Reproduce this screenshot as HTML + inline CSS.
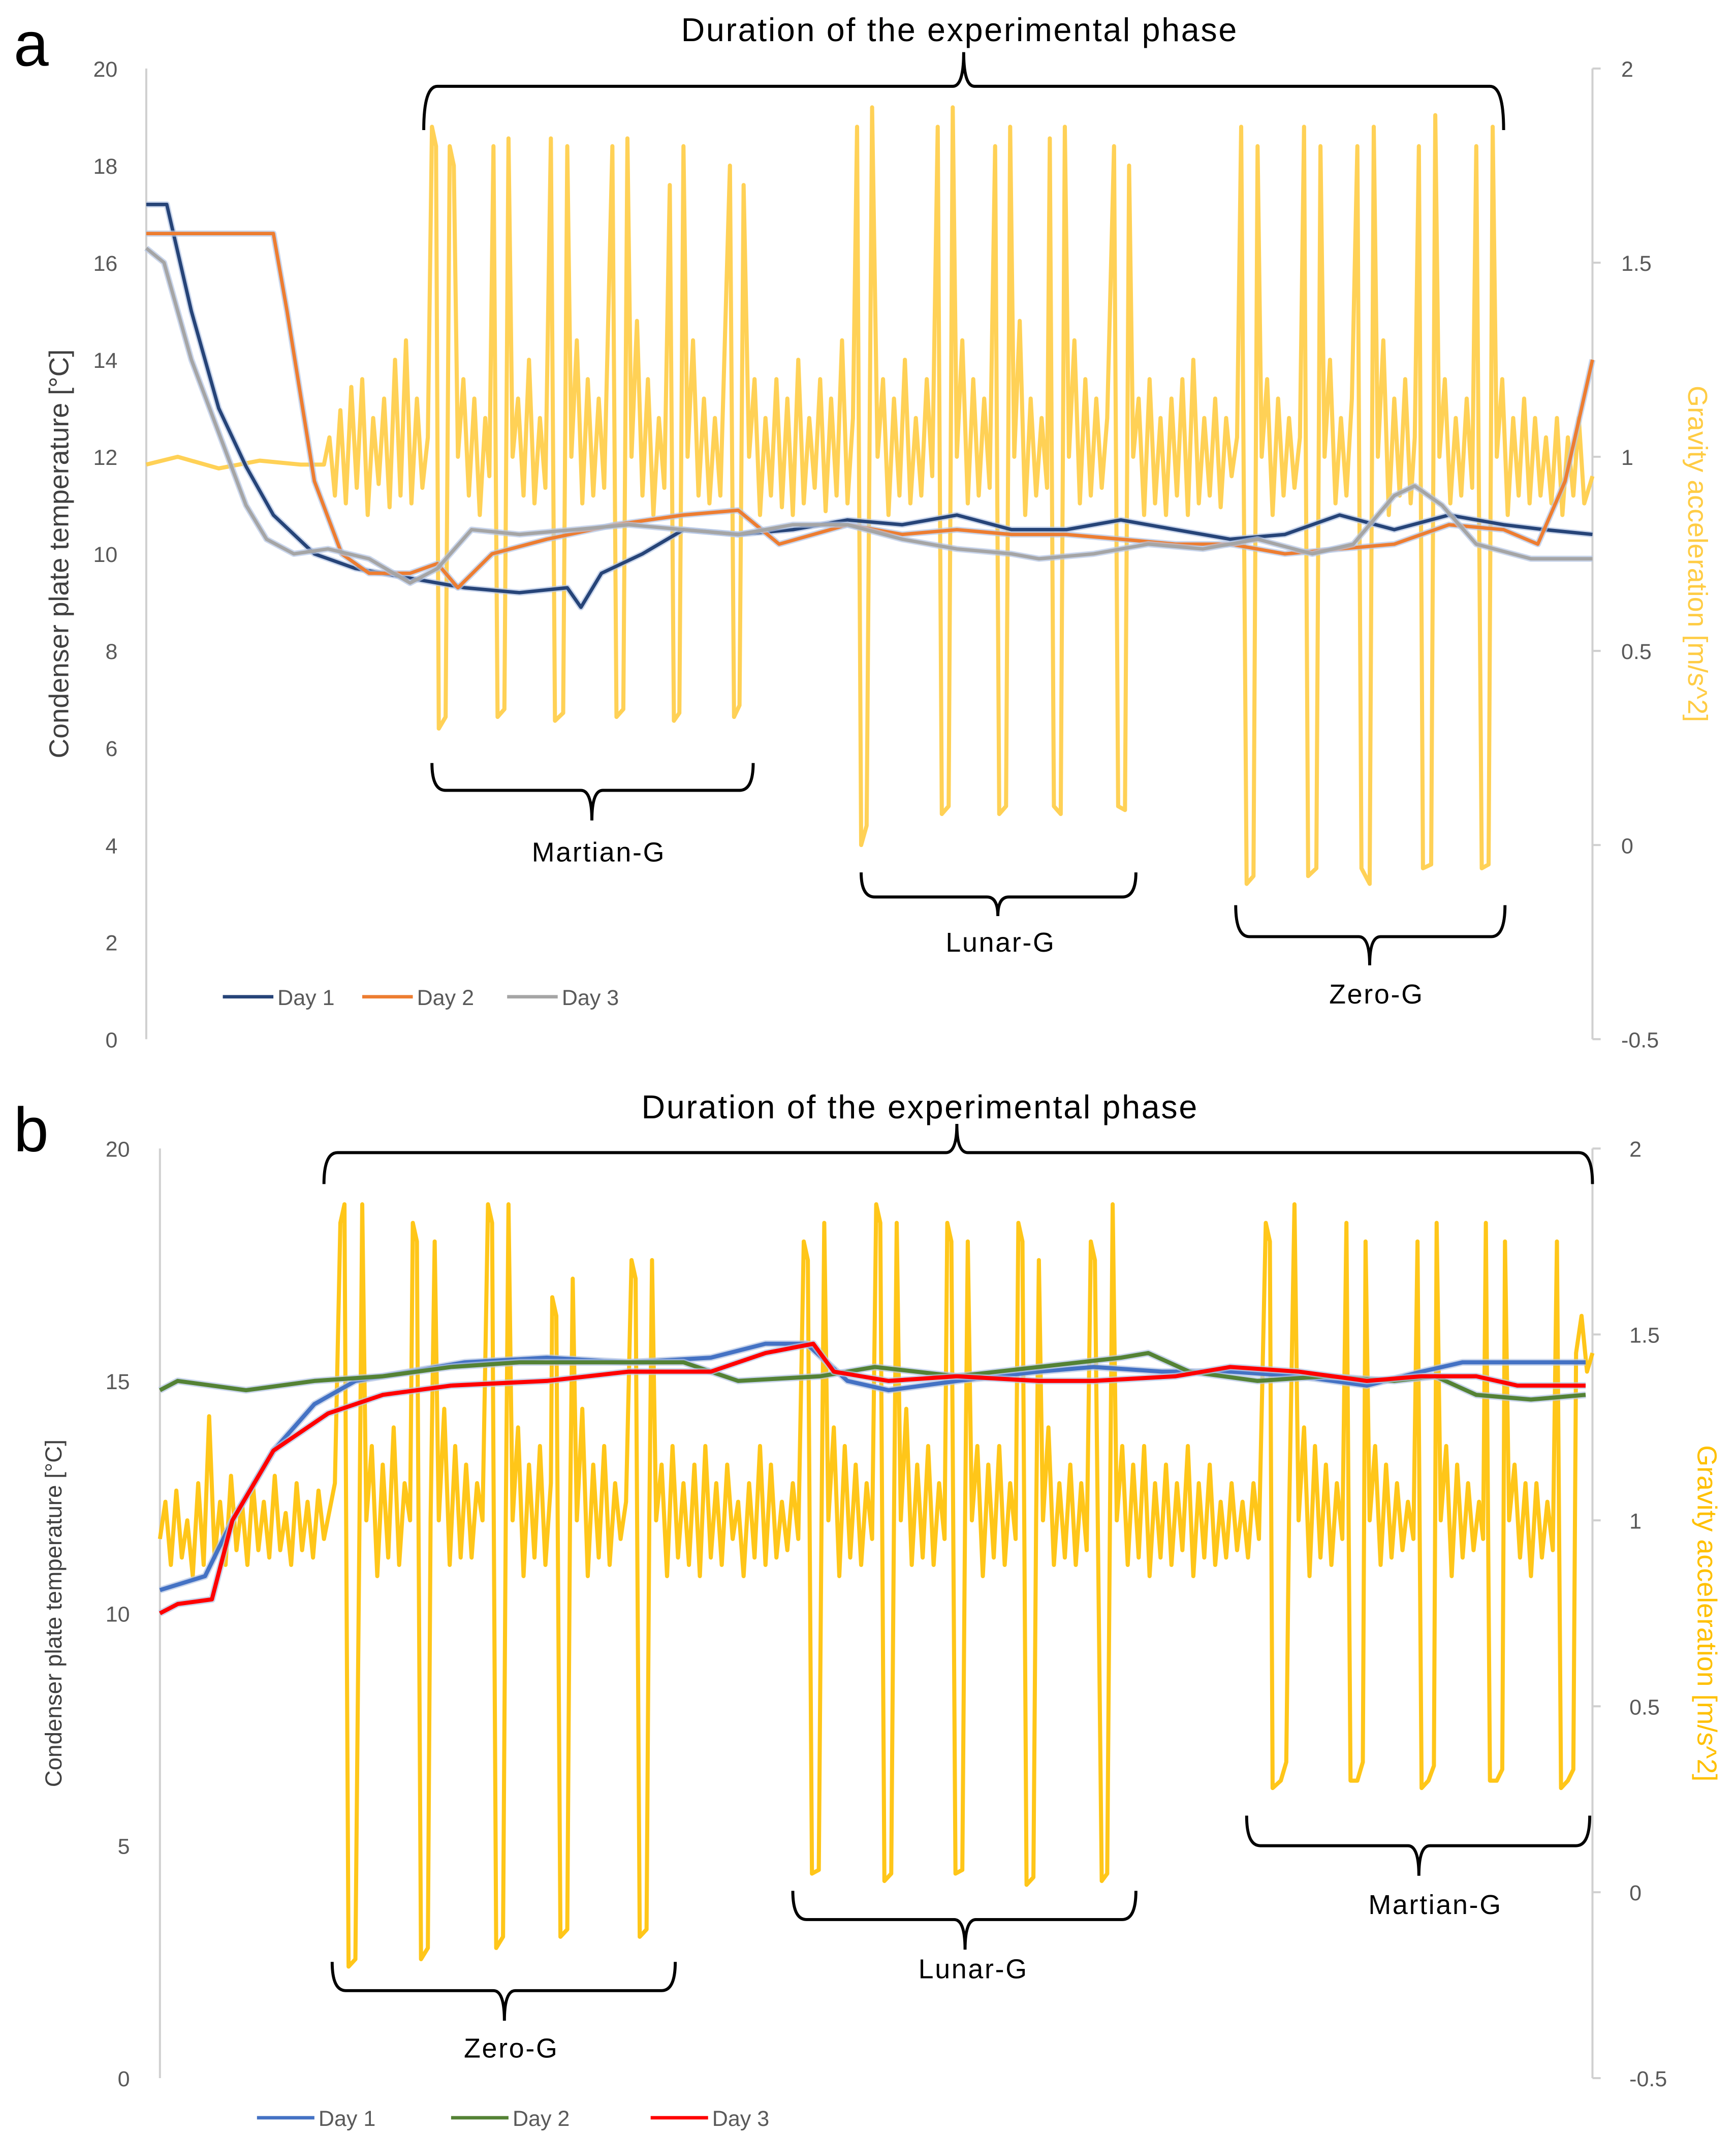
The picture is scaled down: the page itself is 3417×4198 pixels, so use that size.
<!DOCTYPE html>
<html><head><meta charset="utf-8"><style>
html,body{margin:0;padding:0;background:#fff;}
svg{display:block;}
text{font-family:"Liberation Sans","DejaVu Sans",sans-serif;}
</style></head><body>
<svg id="chart" width="3417" height="4198" viewBox="0 0 1270 1560" xmlns="http://www.w3.org/2000/svg">
<g id="static">
<text x="10" y="48" font-size="46">a</text>
<text x="10" y="842" font-size="46">b</text>
</g>
<g id="pa"></g>
<g id="pb"></g>
</svg>
<script>
// ---------- Panel A data: gravity [time, m/s^2] ----------
const gravityA=[[0,0.98],[23,1.0],[53,0.97],[83,0.99],[113,0.98],[130,0.98],
[134,1.05],[138,0.9],[142,1.12],[146,0.88],[150,1.18],[154,0.92],[158,1.2],[162,0.85],[166,1.1],[170,0.93],[174,1.15],[178,0.87],[182,1.25],[186,0.9],[190,1.3],[194,0.88],[198,1.15],[202,0.92],[206,1.05],
[209,1.85],[212,1.8],[214,0.3],[219,0.33],[222,1.8],[225,1.75],[228,1.0],
[232,1.2],[236,0.9],[240,1.15],[244,0.85],[248,1.1],[251,0.95],
[254,1.8],[257,0.33],[262,0.35],[265,1.82],[268,1.0],
[272,1.15],[276,0.9],[280,1.25],[284,0.88],[288,1.1],[292,0.92],
[296,1.82],[299,0.32],[305,0.34],[308,1.8],[311,1.0],
[315,1.3],[319,0.88],[323,1.2],[327,0.9],[331,1.15],[335,0.92],
[341,1.8],[344,0.33],[349,0.35],[352,1.82],[355,1.0],
[359,1.35],[363,0.9],[367,1.2],[371,0.85],[375,1.1],[379,0.92],
[383,1.7],[386,0.32],[390,0.34],[393,1.8],[396,1.0],
[400,1.3],[404,0.9],[408,1.15],[412,0.88],[416,1.1],[420,0.9],
[427,1.75],[430,0.33],[434,0.36],[437,1.7],[441,1.0],
[445,1.2],[449,0.85],[453,1.1],[457,0.9],[461,1.2],[465,0.87],[469,1.15],[473,0.85],[477,1.25],[481,0.88],[485,1.1],[489,0.92],[493,1.2],[497,0.86],[501,1.15],[505,0.9],[509,1.3],[513,0.88],[517,1.1],
[520,1.85],[523,0.0],[527,0.05],[531,1.9],[535,1.0],
[539,1.2],[543,0.85],[547,1.15],[551,0.9],[555,1.25],[559,0.88],[563,1.1],[567,0.9],[571,1.2],[575,0.95],
[579,1.85],[582,0.08],[587,0.1],[590,1.9],[593,1.0],
[597,1.3],[601,0.88],[605,1.2],[609,0.9],[613,1.15],[617,0.92],
[621,1.8],[624,0.08],[629,0.1],[632,1.85],[635,1.0],
[639,1.35],[643,0.85],[647,1.15],[651,0.9],[655,1.1],[659,0.92],
[661,1.82],[664,0.1],[669,0.08],[672,1.85],[675,1.0],
[679,1.3],[683,0.88],[687,1.2],[691,0.9],[695,1.15],[699,0.92],[703,1.1],
[708,1.8],[711,0.1],[716,0.09],[719,1.75],[722,1.0],
[726,1.15],[730,0.85],[734,1.2],[738,0.88],[742,1.1],[746,0.85],[750,1.15],[754,0.9],[758,1.2],[762,0.85],[766,1.25],[770,0.88],[774,1.1],[778,0.9],[782,1.15],[786,0.87],[790,1.1],[794,0.95],[798,1.05],
[801,1.85],[805,-0.1],[810,-0.08],[813,1.8],[816,1.0],
[820,1.2],[824,0.85],[828,1.15],[832,0.9],[836,1.1],[840,0.92],[844,1.05],
[847,1.85],[850,-0.08],[856,-0.06],[859,1.8],[862,1.0],
[866,1.25],[870,0.88],[874,1.1],[878,0.9],[882,1.15],
[886,1.8],[889,-0.06],[895,-0.1],[898,1.85],[901,1.0],
[905,1.3],[909,0.85],[913,1.15],[917,0.9],[921,1.2],[925,0.88],[928,1.05],
[931,1.8],[934,-0.06],[940,-0.05],[943,1.88],[946,1.0],
[950,1.2],[954,0.88],[958,1.1],[962,0.9],[966,1.15],[970,0.92],
[973,1.8],[977,-0.06],[982,-0.05],[985,1.85],[988,1.0],
[992,1.2],[996,0.85],[1000,1.1],[1004,0.9],[1008,1.15],[1012,0.88],[1016,1.1],[1020,0.9],[1024,1.05],[1028,0.88],[1032,1.1],[1036,0.85],[1040,1.05],[1044,0.9],[1048,1.1],[1052,0.88],[1058,0.95]];
const d1TimeA=[0,15,33,53,73,93,123,153,193,233,273,308,318,333,363,393,433,473,513,553,593,633,673,713,753,793,833,873,913,953,993,1023,1058];
const d1ValA=[17.2,17.2,15,13,11.8,10.8,10.0,9.7,9.5,9.3,9.2,9.3,8.9,9.6,10.0,10.5,10.4,10.5,10.7,10.6,10.8,10.5,10.5,10.7,10.5,10.3,10.4,10.8,10.5,10.8,10.6,10.5,10.4];
const d2TimeA=[0,93,103,123,143,163,193,213,228,253,293,343,393,433,463,513,553,593,633,673,713,753,793,833,873,913,953,993,1018,1038,1058];
const d2ValA=[16.6,16.6,15.0,11.5,10.0,9.6,9.6,9.8,9.3,10.0,10.3,10.6,10.8,10.9,10.2,10.6,10.4,10.5,10.4,10.4,10.3,10.2,10.2,10.0,10.1,10.2,10.6,10.5,10.2,11.5,14.0];
const d3TimeA=[0,13,33,53,73,88,108,133,163,193,213,238,273,313,353,393,433,473,513,553,593,633,653,693,733,773,813,853,883,913,928,948,973,1013,1058];
const d3ValA=[16.3,16.0,14,12.5,11,10.3,10.0,10.1,9.9,9.4,9.7,10.5,10.4,10.5,10.6,10.5,10.4,10.6,10.6,10.3,10.1,10.0,9.9,10.0,10.2,10.1,10.3,10.0,10.2,11.2,11.4,11.0,10.2,9.9,9.9];
const leftTicksA=[0,2,4,6,8,10,12,14,16,18,20];
const rightTicksA=[-0.5,0,0.5,1,1.5,2];

// ---------- Panel B data ----------
const gravityB=[[0,0.95],[4,1.05],[8,0.88],[12,1.08],[16,0.9],[20,1.0],[24,0.85],[28,1.1],[32,0.88],[36,1.28],[40,0.9],[44,1.05],[48,0.88],[52,1.12],[56,0.92],[60,1.05],[64,0.88],[68,1.1],[72,0.92],[76,1.05],[80,0.9],[84,1.12],[88,0.92],[92,1.02],[96,0.88],[100,1.1],[104,0.92],[108,1.05],[112,0.9],[116,1.08],[120,0.95],
[128,1.1],[132,1.8],[135,1.85],[138,-0.2],[143,-0.18],[146,1.0],[148,1.85],[151,1.0],
[155,1.2],[159,0.85],[163,1.15],[167,0.9],[171,1.25],[175,0.88],[179,1.1],[183,1.0],
[185,1.8],[188,1.75],[191,-0.18],[196,-0.15],[198,1.0],[201,1.75],[204,1.0],
[208,1.3],[212,0.88],[216,1.2],[220,0.9],[224,1.15],[228,0.9],[232,1.1],[236,1.0],
[240,1.85],[243,1.8],[246,-0.15],[251,-0.12],[253,1.0],[255,1.85],[258,1.0],
[262,1.25],[266,0.85],[270,1.15],[274,0.9],[278,1.2],[282,0.88],[286,1.1],
[287,1.6],[290,1.55],[293,-0.12],[298,-0.1],[300,1.0],[302,1.65],[305,1.0],
[309,1.3],[313,0.85],[317,1.15],[321,0.9],[325,1.2],[329,0.88],[333,1.1],[337,0.95],[341,1.05],
[345,1.7],[348,1.65],[351,-0.12],[356,-0.1],[358,1.0],[360,1.7],[363,1.0],
[367,1.15],[371,0.85],[375,1.2],[379,0.9],[383,1.1],[387,0.88],[391,1.15],[395,0.85],[399,1.2],[403,0.9],[407,1.1],[411,0.88],[415,1.15],[419,0.95],[423,1.05],[427,0.85],[431,1.1],[435,0.9],[439,1.2],[443,0.88],[447,1.15],[451,0.9],[455,1.05],[459,0.92],[463,1.1],[467,0.95],
[471,1.75],[474,1.7],[477,0.05],[482,0.06],[484,1.0],[486,1.8],[489,1.0],
[493,1.25],[497,0.85],[501,1.2],[505,0.9],[509,1.15],[513,0.88],[517,1.1],[521,0.95],
[524,1.85],[527,1.8],[530,0.03],[535,0.05],[537,1.0],[539,1.8],[542,1.0],
[546,1.3],[550,0.88],[554,1.15],[558,0.9],[562,1.2],[566,0.88],[570,1.1],[574,0.95],
[576,1.8],[579,1.75],[582,0.05],[587,0.06],[589,1.0],[591,1.75],[594,1.0],
[598,1.2],[602,0.85],[606,1.15],[610,0.9],[614,1.2],[618,0.88],[622,1.1],[626,0.95],
[628,1.8],[631,1.75],[634,0.02],[639,0.04],[641,1.0],[643,1.7],[646,1.0],
[650,1.25],[654,0.88],[658,1.1],[662,0.9],[666,1.15],[670,0.88],[674,1.1],[678,0.92],
[681,1.75],[684,1.7],[689,0.03],[693,0.05],[695,1.0],[697,1.85],[700,1.0],
[704,1.2],[708,0.88],[712,1.15],[716,0.9],[720,1.2],[724,0.85],[728,1.1],[732,0.9],[736,1.15],[740,0.88],[744,1.1],[748,0.92],[752,1.2],[756,0.85],[760,1.1],[764,0.9],[768,1.15],[772,0.88],[776,1.05],[780,0.9],[784,1.1],[788,0.92],[792,1.05],[796,0.9],[800,1.1],[804,0.95],
[809,1.8],[812,1.75],[814,0.28],[820,0.3],[824,0.35],[826,1.0],[830,1.85],[833,1.0],
[837,1.25],[841,0.85],[845,1.2],[849,0.9],[853,1.15],[857,0.88],[861,1.1],[865,0.95],
[868,1.8],[871,0.3],[876,0.3],[880,0.35],[882,1.75],[885,1.0],
[889,1.2],[893,0.88],[897,1.15],[901,0.9],[905,1.1],[909,0.92],[913,1.05],[917,0.95],
[920,1.75],[923,0.28],[928,0.3],[932,0.34],[934,1.8],[937,1.0],
[941,1.2],[945,0.85],[949,1.15],[953,0.9],[957,1.1],[961,0.92],[965,1.05],[968,0.95],
[970,1.8],[973,0.3],[978,0.3],[982,0.33],[984,1.75],[987,1.0],
[991,1.15],[995,0.9],[999,1.1],[1003,0.85],[1007,1.1],[1011,0.9],[1015,1.05],[1019,0.92],
[1022,1.75],[1025,0.28],[1030,0.3],[1034,0.33],[1036,1.45],[1040,1.55],[1044,1.4],[1048,1.45]];
const d1TimeB=[0,33,53,83,113,143,183,223,283,343,403,443,473,503,533,583,643,683,733,783,833,883,923,953,993,1043];
const d1ValB=[10.5,10.8,12,13.5,14.5,15.0,15.2,15.4,15.5,15.4,15.5,15.8,15.8,15.0,14.8,15.0,15.2,15.3,15.2,15.2,15.1,14.9,15.2,15.4,15.4,15.4];
const d2TimeB=[0,13,63,113,163,213,263,313,383,423,483,523,583,643,703,723,753,803,853,903,933,963,1003,1043];
const d2ValB=[14.8,15.0,14.8,15.0,15.1,15.3,15.4,15.4,15.4,15.0,15.1,15.3,15.1,15.3,15.5,15.6,15.2,15.0,15.1,15.0,15.1,14.7,14.6,14.7];
const d3TimeB=[0,13,38,53,83,123,163,213,283,343,403,443,478,493,533,583,643,683,743,783,833,883,923,963,993,1043];
const d3ValB=[10.0,10.2,10.3,12,13.5,14.3,14.7,14.9,15.0,15.2,15.2,15.6,15.8,15.2,15.0,15.1,15.0,15.0,15.1,15.3,15.2,15.0,15.1,15.1,14.9,14.9];
const leftTicksB=[0,5,10,15,20];
const rightTicksB=[-0.5,0,0.5,1,1.5,2];

const NS='http://www.w3.org/2000/svg';
function mk(parent,tag,attrs,txt){const e=document.createElementNS(NS,tag);for(const k in attrs)e.setAttribute(k,attrs[k]);if(txt!=null)e.textContent=txt;parent.appendChild(e);return e;}
function pathFrom(ts,vs,sx,sy){let d='';for(let i=0;i<ts.length;i++){d+=(i?'L':'M')+sx(ts[i]).toFixed(1)+','+sy(vs[i]).toFixed(1);}return d;}
function brace(g,x1,x2,yEdge,yBar,xTip,yTip,name){
  const d=`M${x1},${yEdge} Q${x1},${yBar} ${x1+10},${yBar} L${xTip-8},${yBar} Q${xTip},${yBar} ${xTip},${yTip} Q${xTip},${yBar} ${xTip+8},${yBar} L${x2-10},${yBar} Q${x2},${yBar} ${x2},${yEdge}`;
  const p=mk(g,'path',{d:d,fill:'none',stroke:'#000','stroke-width':2.2});
  
  
}

function panel(g,cfg){
  const sx=t=>cfg.x0+t/cfg.tMax*(cfg.x1-cfg.x0);
  const syL=v=>cfg.yB+(cfg.yT-cfg.yB)*(v-cfg.lMin)/(cfg.lMax-cfg.lMin);
  const syR=v=>cfg.yB+(cfg.yT-cfg.yB)*(v-cfg.rMin)/(cfg.rMax-cfg.rMin);
  let e=mk(g,'line',{x1:cfg.x0,x2:cfg.x0,y1:cfg.yT,y2:cfg.yB,stroke:'#d0d0d0','stroke-width':1.5});
  
  
  e=mk(g,'line',{x1:cfg.x1,x2:cfg.x1,y1:cfg.yT,y2:cfg.yB,stroke:'#d0d0d0','stroke-width':1.5});
  
  
  cfg.lt.forEach(v=>{
    const t=mk(g,'text',{x:cfg.lx,y:syL(v)+6,'text-anchor':'end','font-size':16,fill:'#595959'},String(v));
    
    
  });
  cfg.rt.forEach(v=>{
    const l=mk(g,'line',{x1:cfg.x1,x2:cfg.x1+6,y1:syR(v),y2:syR(v),stroke:'#d0d0d0','stroke-width':1.5});
    
    
    const t=mk(g,'text',{x:cfg.rx,y:syR(v)+6,'font-size':16,fill:'#595959'},String(v));
    
    
  });
  let t=mk(g,'text',{transform:`translate(${cfg.ltx},${(cfg.yT+cfg.yB)/2}) rotate(-90)`,'text-anchor':'middle','font-size':cfg.ltSize,fill:'#404040'},'Condenser plate temperature [°C]');
  
  
  t=mk(g,'text',{transform:`translate(${cfg.rtx},${(cfg.yT+cfg.yB)/2}) rotate(90)`,'text-anchor':'middle','font-size':20,fill:cfg.gColor},'Gravity acceleration [m/s^2]');
  
  
  const gt=cfg.g.map(p=>p[0]), gv=cfg.g.map(p=>p[1]);
  let p=mk(g,'path',{d:pathFrom(gt,gv,sx,syR),fill:'none',stroke:cfg.gColor,'stroke-width':3,'stroke-linejoin':'round','stroke-opacity':0.9});
  
  
  cfg.temps.forEach(s=>{
    const q=mk(g,'path',{d:pathFrom(s.t,s.v,sx,syL),fill:'none',stroke:'#b4c4e4','stroke-width':cfg.tw+2,'stroke-linejoin':'round','stroke-opacity':0.7});
    
    
    const r=mk(g,'path',{d:pathFrom(s.t,s.v,sx,syL),fill:'none',stroke:s.c,'stroke-width':cfg.tw,'stroke-linejoin':'round'});
    
    
  });
  cfg.temps.forEach(s=>{
    const l=mk(g,'line',{x1:s.lx,x2:s.lx+(cfg.legLen),y1:cfg.legY,y2:cfg.legY,stroke:s.c,'stroke-width':2.5});
    
    
    const tx=mk(g,'text',{x:s.lx+cfg.legLen+3,y:cfg.legY+6,'font-size':16,fill:'#595959'},s.label);
    
    
  });
  cfg.braces.forEach(b=>{
    brace(g,b[0],b[1],b[2],b[3],b[4],b[5],b[8]+'-bracket');
    const tx=mk(g,'text',{x:b[6],y:b[7],'text-anchor':'middle','font-size':b[9],fill:'#000','letter-spacing':1},b[10]);
    
    
  });
}

panel(document.getElementById('pa'),{
  x0:107,x1:1165,tMax:1058,yT:50,yB:760,lMin:0,lMax:20,rMin:-0.5,rMax:2,
  lt:leftTicksA,rt:rightTicksA,lx:86,rx:1186,ltx:50,ltSize:20,rtx:1235,gColor:'#ffcc44',
  g:gravityA,tw:2.5,legY:729,legLen:37,
  temps:[{t:d1TimeA,v:d1ValA,c:'#264478',name:'day1-series',label:'Day 1',lx:163},
         {t:d2TimeA,v:d2ValA,c:'#ed7d31',name:'day2-series',label:'Day 2',lx:265},
         {t:d3TimeA,v:d3ValA,c:'#a5a5a5',name:'day3-series',label:'Day 3',lx:371}],
  braces:[[310,1100,95,63,705,38,702,30,'experimental-phase',24,'Duration of the experimental phase'],
          [316,551,558,578,433,600,438,630,'martian-g',20,'Martian-G'],
          [630,831,638,656,730,670,732,696,'lunar-g',20,'Lunar-G'],
          [904,1101,662,685,1002,706,1007,734,'zero-g',20,'Zero-G']]
});
panel(document.getElementById('pb'),{
  x0:117,x1:1165,tMax:1048,yT:840,yB:1520,lMin:0,lMax:20,rMin:-0.5,rMax:2,
  lt:leftTicksB,rt:rightTicksB,lx:95,rx:1192,ltx:45,ltSize:17,rtx:1242,gColor:'#ffc000',
  g:gravityB,tw:3,legY:1549,legLen:42,
  temps:[{t:d1TimeB,v:d1ValB,c:'#4472c4',name:'day1-series',label:'Day 1',lx:188},
         {t:d2TimeB,v:d2ValB,c:'#548235',name:'day2-series',label:'Day 2',lx:330},
         {t:d3TimeB,v:d3ValB,c:'#ff0000',name:'day3-series',label:'Day 3',lx:476}],
  braces:[[237,1165,866,843,700,822,673,818,'experimental-phase',24,'Duration of the experimental phase'],
          [243,494,1435,1456,369,1478,374,1505,'zero-g',20,'Zero-G'],
          [580,831,1383,1404,706,1426,712,1447,'lunar-g',20,'Lunar-G'],
          [912,1163,1328,1350,1038,1372,1050,1400,'martian-g',20,'Martian-G']]
});
</script>
</body></html>
